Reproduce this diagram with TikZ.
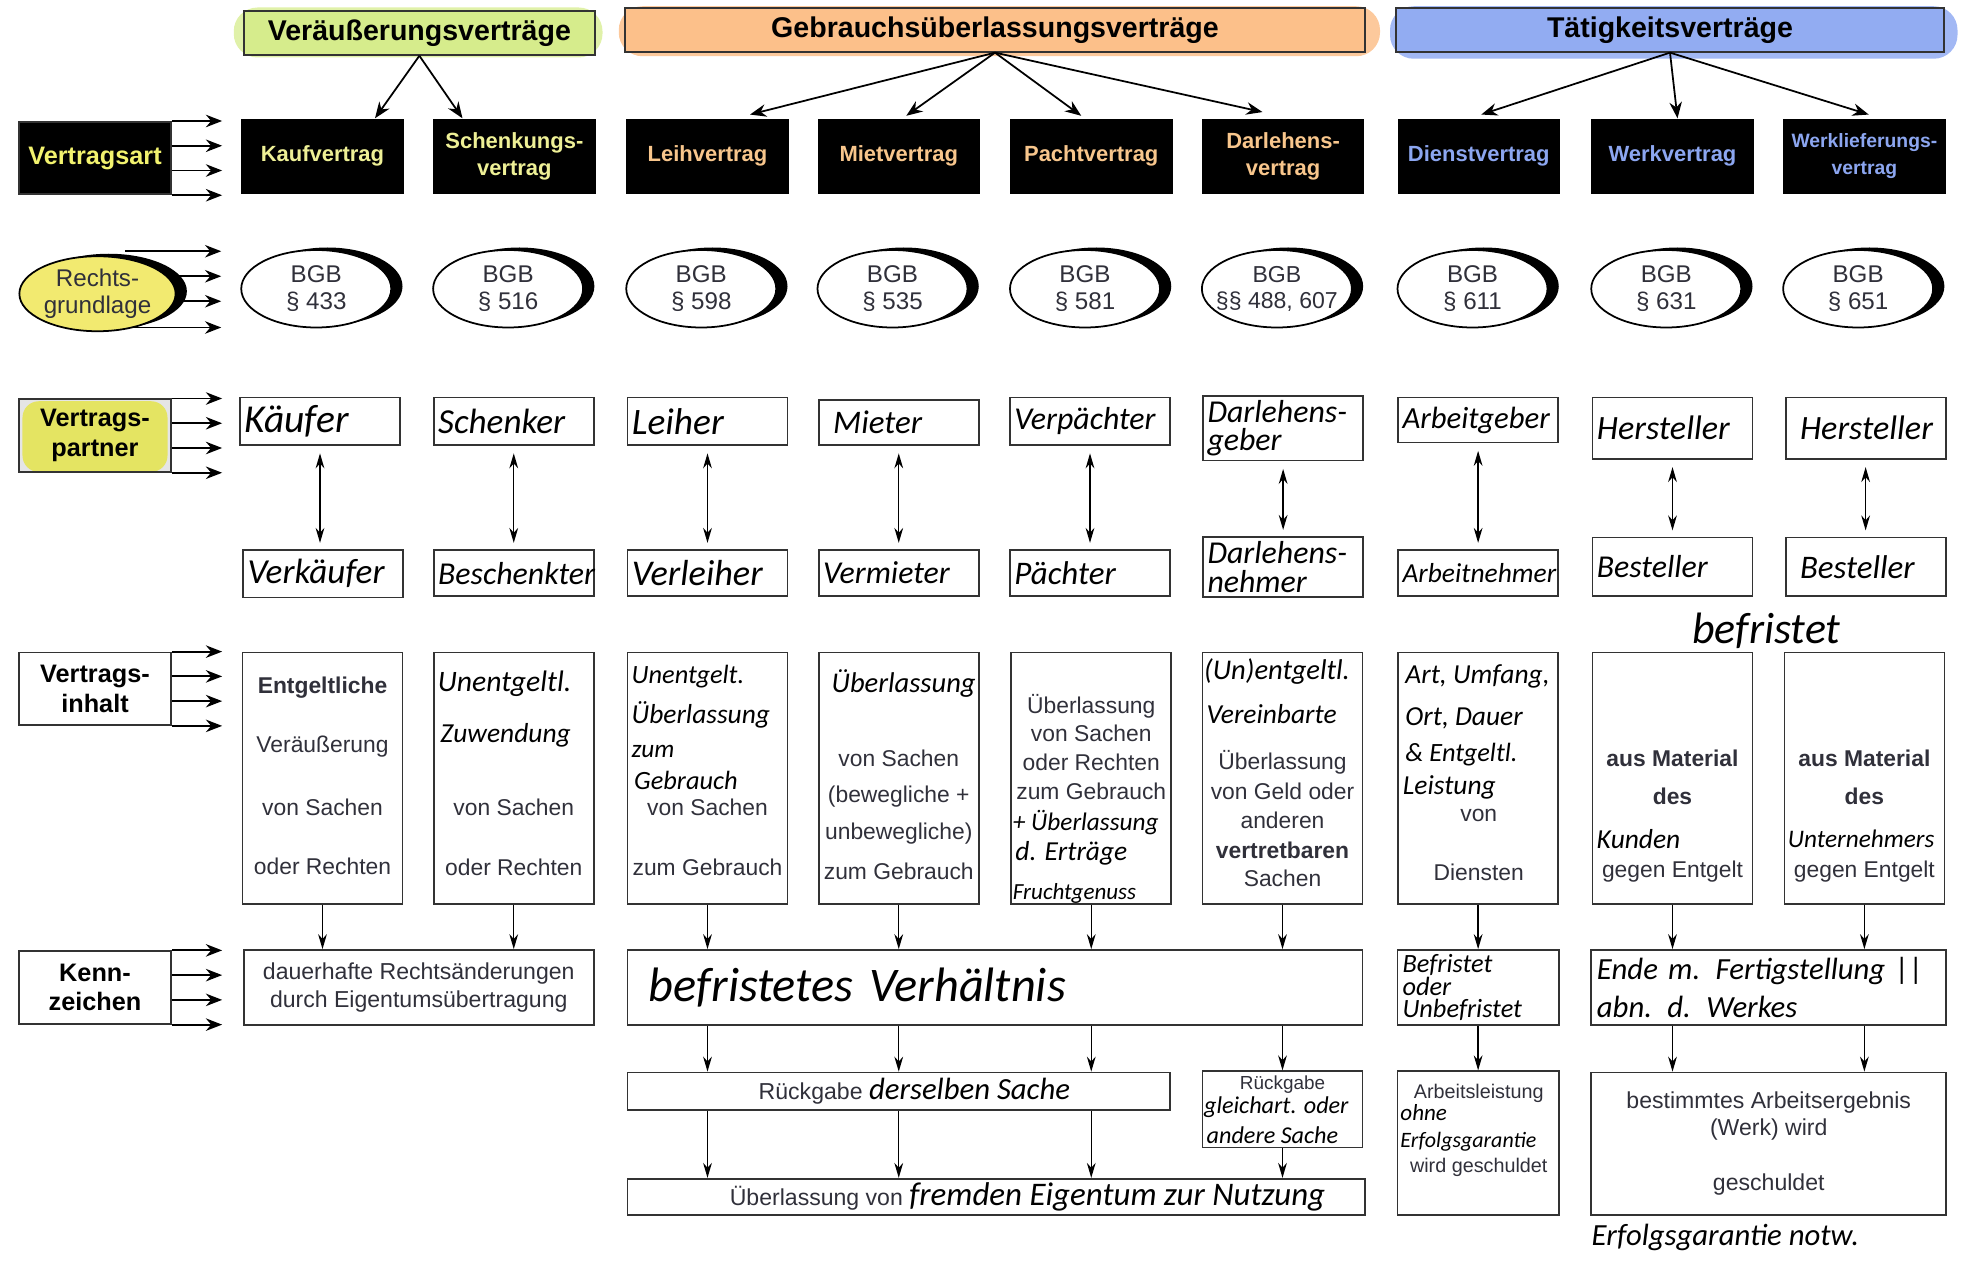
\documentclass[tikz,border=0pt]{standalone}
\usepackage{fontspec}
\setmainfont{Liberation Sans}
\newfontfamily\handfont{Carlito}
\usetikzlibrary{positioning,calc,shapes.geometric,shadows,arrows.meta}
\hyphenpenalty=10000
\exhyphenpenalty=10000

\definecolor{vgruen}{RGB}{214,236,140}
\definecolor{gorange}{RGB}{252,192,138}
\definecolor{tblau}{RGB}{146,172,242}
\definecolor{vtext}{RGB}{238,240,150}
\definecolor{gtext}{RGB}{248,198,140}
\definecolor{ttext}{RGB}{140,166,240}
\definecolor{artgelb}{RGB}{242,242,110}
\definecolor{rgelb}{RGB}{242,234,112}
\definecolor{vpgelb}{RGB}{228,228,98}
\definecolor{druck}{RGB}{48,48,58}

\newcommand\hw[1]{\handfont\itshape\fontsize{#1}{#1}\selectfont}
\newcommand\prn[1]{\fontsize{#1}{12.5}\selectfont}

\begin{document}
\begin{tikzpicture}
  [x=0.2mm,y=-0.2mm,
   kopf/.style={draw=black!80,line width=0.7pt,minimum height=7mm,
      inner sep=0pt,font=\bfseries\prn{13}},
   vart/.style={fill=black,minimum width=26mm,minimum height=12mm,
      align=center,inner sep=0pt,font=\bfseries\prn{10}},
   bgb/.style={ellipse,draw,line width=0.8pt,fill=white,
      minimum width=24mm,minimum height=12.4mm,inner sep=0pt,align=center,
      font=\fontsize{11}{12.5}\selectfont,text=druck,
      drop shadow={shadow xshift=1.8mm,shadow yshift=0.4mm,
        fill=black,opacity=1}},
   partner/.style={draw=black!80,line width=0.8pt,minimum width=25.6mm,
      text width=24.2mm,inner sep=0.7mm,align=left},
   inhalt/.style={draw=black!80,line width=0.8pt,minimum width=25.6mm,
      minimum height=40.2mm},
   kasten/.style={draw=black!80,line width=0.8pt,inner sep=0.8mm},
   seite/.style={draw=black!80,line width=0.8pt,minimum width=24.4mm,
      minimum height=11.6mm,align=center,inner sep=0pt,
      font=\bfseries\fontsize{11.5}{13.5}\selectfont},
   pf/.style={-{Stealth[length=2.6mm,width=2mm]},line width=0.8pt},
   ab/.style={-{Stealth[length=2.4mm,width=1.4mm]},line width=0.6pt},
   dpf/.style={{Stealth[length=2.4mm,width=1.4mm]}-{Stealth[length=2.4mm,width=1.4mm]},
      line width=0.6pt,shorten <=1.2mm,shorten >=1mm},
   zl/.style={inner sep=0pt,text=druck},
   hl/.style={inner sep=0pt,anchor=west}]
  \useasboundingbox (0,0) rectangle (1572,1019);

  % Gruppen
  \fill[vgruen!75,rounded corners=3.8mm] (187,6) rectangle (482,46);
  \fill[gorange!85,rounded corners=3.8mm] (495,5) rectangle (1104,45);
  \fill[tblau!85,rounded corners=3.8mm] (1112,5) rectangle (1566,47);
  \node[kopf,fill=vgruen,minimum width=56.2mm] (vk) at (335.5,26.5)
    {Veräußerungsverträge};
  \node[kopf,fill=gorange,minimum width=118.4mm] (gu) at (796,24)
    {Gebrauchsüberlassungsverträge};
  \node[kopf,fill=tblau,minimum width=87.6mm] (tv) at (1336,24)
    {Tätigkeitsverträge};

  % Vertragsart
  \node[vart,text=vtext] (kauf) at (258,125) {Kaufvertrag};
  \node[vart,text=vtext] (schenk) at (411.5,125) {Schenkungs-\\vertrag};
  \node[vart,text=gtext] (leih) at (566,125) {Leihvertrag};
  \node[vart,text=gtext] (miet) at (719,125) {Mietvertrag};
  \node[vart,text=gtext] (pacht) at (873,125) {Pachtvertrag};
  \node[vart,text=gtext] (darl) at (1026.5,125) {Darlehens-\\vertrag};
  \node[vart,text=ttext] (dienst) at (1183,125) {Dienstvertrag};
  \node[vart,text=ttext] (werk) at (1338,125) {Werkvertrag};
  \node[vart,text=ttext,font=\bfseries\prn{8.8}] (wlief) at (1491.5,125)
    {Werklieferungs-\\vertrag};

  \draw[pf] (vk.south) -- ([xshift=8.4mm]kauf.north);
  \draw[pf] (vk.south) -- ([xshift=-8.3mm]schenk.north);
  \draw[pf] (gu.south) -- ([xshift=6.8mm,yshift=0.6mm]leih.north);
  \draw[pf] (gu.south) -- ([xshift=1.2mm,yshift=0.4mm]miet.north);
  \draw[pf] (gu.south) -- ([xshift=-1.6mm,yshift=0.4mm]pacht.north);
  \draw[pf] (gu.south) -- ([xshift=-3.3mm,yshift=1mm]darl.north);
  \draw[pf] (tv.south) -- ([xshift=0.4mm,yshift=0.6mm]dienst.north);
  \draw[pf] (tv.south) -- ([xshift=0.8mm]werk.north);
  \draw[pf] (tv.south) -- ([xshift=0.7mm,yshift=0.6mm]wlief.north);

  % Seitenbeschriftung
  \node[seite,fill=black,text=artgelb] (vertragsart) at (76,126.5)
    {Vertragsart};
  \node[seite,fill=black!10,
    path picture={\fill[vpgelb,rounded corners=2.6mm]
      ([xshift=0.6mm,yshift=-0.3mm]path picture bounding box.north west)
      rectangle ([xshift=-0.6mm]path picture bounding box.south east);}]
    (vertragspartner) at (76,348.5) {Vertrags-\\partner};
  \node[seite,fill=white] (vertragsinhalt) at (76,551) {Vertrags-\\inhalt};
  \node[seite,fill=white] (kennzeichen) at (76,790) {Kenn-\\zeichen};
  \foreach \n in {vertragsart,vertragspartner,vertragsinhalt,kennzeichen}
    \foreach \f in {0,1,2,3} {
      \coordinate (\n-a\f) at ($(\n.north east)!\f/3!(\n.south east)$);
      \coordinate (\n-e\f) at ($(\n-a\f)+(40,0)$);
      \draw[pf] (\n-a\f) -- (\n-e\f);
    }
  \foreach \f/\y in {0/201,1/221,2/241,3/262} {
    \coordinate (rg-a\f) at (100,\y);
    \coordinate (rg-e\f) at (177,\y);
    \draw[pf] (rg-a\f) -- (rg-e\f);
  }
  \node[bgb,fill=rgelb,minimum width=25mm,minimum height=12mm]
    (rechtsgrundlage) at (78,235) {Rechts-\\grundlage};

  % Rechtsgrundlage
  \foreach \n/\x/\p in {1/253/§ 433,2/406.5/§ 516,3/561/§ 598,4/714/§ 535,
      5/868/§ 581,7/1178/§ 611,8/1333/§ 631,9/1486.5/§ 651}
    \node[bgb] (bgb\n) at (\x,231) {BGB\\\p};
  \node[bgb,inner xsep=-1.8mm,font=\fontsize{10.5}{12}\selectfont] (bgb6)
    at (1021.5,231) {BGB\\§§ 488, 607};

  % Vertragspartner
  \node[partner,minimum height=7.6mm,font=\hw{18}] (po1) at (256,337) {Käufer};
  \node[partner,minimum height=7.6mm,font=\hw{16}] (po2) at (411,337) {Schenker};
  \node[partner,minimum height=7.6mm,font=\hw{17}] (po3) at (566,337) {Leiher};
  \node[partner,minimum height=7.2mm,font=\hw{15}] (po4) at (719,338)
    {\hspace*{1.6mm}Mieter};
  \node[partner,minimum height=7.6mm,font=\hw{14.5}] (po5) at (872,337)
    {Verpächter};
  \node[partner,minimum height=9.8mm,
    font=\handfont\itshape\fontsize{14.5}{13}\selectfont] (po6)
    at (1026.5,342.5) {Darlehens-\\geber};
  \node[partner,minimum height=7.2mm,font=\hw{14}] (po7) at (1182.5,336)
    {Arbeitgeber};
  \node[partner,minimum height=9.8mm,font=\hw{15.5}] (po8) at (1338,342.5)
    {Hersteller};
  \node[partner,minimum height=9.8mm,font=\hw{15.5}] (po9) at (1492.5,342.5)
    {\hspace*{1.6mm}Hersteller};
  \node[partner,minimum height=7.6mm,font=\hw{16}] (pu1) at (258.5,459)
    {Verkäufer};
  \node[partner,minimum height=7.4mm,font=\hw{14.5}] (pu2) at (411,458.5)
    {Beschenkter};
  \node[partner,minimum height=7.4mm,font=\hw{16.5}] (pu3) at (566,458.5)
    {Verleiher};
  \node[partner,minimum height=7.4mm,font=\hw{14.5}] (pu4) at (719,458.5)
    {Vermieter};
  \node[partner,minimum height=7.4mm,font=\hw{15}] (pu5) at (872,458.5)
    {Pächter};
  \node[partner,minimum height=9.4mm,
    font=\handfont\itshape\fontsize{14.5}{13}\selectfont] (pu6)
    at (1026.5,453.5) {Darlehens-\\nehmer};
  \node[partner,minimum height=7.4mm,font=\hw{12.5}] (pu7) at (1182.5,458.5)
    {Arbeitnehmer};
  \node[partner,minimum height=9.4mm,font=\hw{14.5}] (pu8) at (1338,453.5)
    {Besteller};
  \node[partner,minimum height=9.4mm,font=\hw{15}] (pu9) at (1492.5,453.5)
    {\hspace*{1.6mm}Besteller};
  \foreach \n in {1,...,9}
    \draw[dpf] (po\n.south) -- (po\n.south |- pu\n.north);
  \node[hl,anchor=center] (befristet) at (1413,505) {\hw{20}befristet};

  % Vertragsinhalt
  \foreach \n/\x in {1/258,2/411,3/566,4/719,5/873,6/1026,7/1182.5,
      8/1338,9/1491.5}
    \node[inhalt] (i\n) at (\x,622.5) {};
  \foreach \x/\y/\s/\t [count=\k] in {
      258/550/10.4/{\bfseries Entgeltliche},258/597/10.4/Veräußerung,
      258/646/10.4/von Sachen,258/693/10.4/oder Rechten,
      411/646/10.4/von Sachen,411/694/10.4/oder Rechten,
      566/646/10.4/von Sachen,566/694/10.4/zum Gebrauch,
      719/607/10.4/von Sachen,719/637/10.4/(bewegliche +,
      719/667/10.4/unbewegliche),719/697/10.4/zum Gebrauch,
      873/565/10.4/Überlassung,873/587/10.4/von Sachen,
      873/610/10.4/oder Rechten,873/633/10.4/zum Gebrauch,
      1026/610/10.4/Überlassung,1026/633/10.4/von Geld oder,
      1026/656/10.4/anderen,1026/680/10.4/{\bfseries vertretbaren},
      1026/703/10.4/Sachen,
      1183/652/10.4/von,1183/698/10.4/Diensten,
      1338/607/10.4/{\bfseries aus Material},1338/637/10.4/{\bfseries des},
      1338/697/10.4/gegen Entgelt,
      1491.5/607/10.4/{\bfseries aus Material},1491.5/637/10.4/{\bfseries des},
      1491.5/697/10.4/gegen Entgelt,
      1026/868/8.6/Rückgabe,1183/875/9/Arbeitsleistung,
      1183/934/9/wird geschuldet}
    \node[zl] (z\k) at (\x,\y) {\prn{\s}\t};
  \foreach \x/\y/\s/\t [count=\k] in {
      350/547/13.5/Unentgeltl.,352/588/12.5/Zuwendung,
      505/541/12/Unentgelt.,505/572/12.5/Überlassung,505/601/11.5/zum,
      507/624/12/Gebrauch,
      665/547/13/Überlassung,
      810/658/11.5/+ Überlassung,812/683/12.5/d. Erträge,810/715/10.5/Fruchtgenuss,
      963/537/13/(Un)entgeltl.,965/571/12.5/Vereinbarte,
      1124/541/12.5/{Art, Umfang,},1124/575/12.5/{Ort, Dauer},
      1124/604/12/\& Entgeltl.,1122/630/12.5/Leistung,
      1277/671/12.5/Kunden,1430/671/11.5/Unternehmers,
      963/886/11/gleichart. oder,965/908/11/andere Sache,
      1120/890/10.5/ohne,1120/913/10/Erfolgsgarantie}
    \node[hl] (h\k) at (\x,\y) {\hw{\s}\t};

  % Kennzeichen
  \node[kasten,minimum width=56mm,minimum height=12mm,align=center,
    text=druck,font=\prn{10.5}] (kz1) at (335,790)
    {dauerhafte Rechtsänderungen\\durch Eigentumsübertragung};
  \node[kasten,minimum width=117.6mm,minimum height=12mm,text width=114mm,
    align=left,font=\hw{22}] (kz2) at (796,790)
    {\hspace*{1.6mm}befristetes Verhältnis};
  \node[kasten,minimum width=25.8mm,minimum height=12mm,text width=24.2mm,
    inner sep=0.3mm,align=left,
    font=\handfont\itshape\fontsize{12}{10.4}\selectfont] (kz3) at (1182.5,790)
    {Befristet\\oder\\Unbefristet};
  \node[kasten,minimum width=56.8mm,minimum height=12mm,text width=55mm,
    align=left,font=\handfont\itshape\fontsize{14}{17.5}\selectfont] (kz4)
    at (1415,790) {Ende m. Fertigstellung ||\\abn. d. Werkes};
  \foreach \n/\k in {1/kz1,2/kz1,3/kz2,4/kz2,5/kz2,6/kz2,7/kz3,8/kz4,9/kz4}
    \draw[ab] (i\n.south) -- (i\n.south |- \k.north);

  % Folgen
  \node[kasten,minimum width=86.8mm,minimum height=6mm,inner sep=0pt,
    text=druck,font=\prn{10.5}] (rs) at (719,873)
    {\hspace*{5mm}Rückgabe {\hw{14}\color{black} derselben Sache}};
  \node[kasten,minimum width=25.6mm,minimum height=12.2mm] (rg)
    at (1026,887.5) {};
  \node[kasten,minimum width=25.8mm,minimum height=23mm] (al)
    at (1182.5,914.5) {};
  \node[kasten,minimum width=56.8mm,minimum height=22.8mm,align=center,
    text=druck,font=\prn{10.5}] (ae) at (1415,915)
    {bestimmtes Arbeitsergebnis\\(Werk) wird\\[12.5pt]geschuldet};
  \node[kasten,minimum width=118mm,minimum height=5.8mm,inner sep=0pt,
    text=druck,font=\prn{10.5}] (ue) at (797,957.5)
    {\hspace*{10mm}Überlassung von {\hw{15}\color{black} fremden Eigentum zur Nutzung}};
  \node[hl] (erfolg) at (1273,990) {\hw{14}Erfolgsgarantie notw.};

  \foreach \n in {3,4,5} {
    \draw[ab] (i\n.south |- kz2.south) -- (i\n.south |- rs.north);
    \draw[ab] (i\n.south |- rs.south) -- (i\n.south |- ue.north);
  }
  \draw[ab] (i6.south |- kz2.south) -- (rg.north);
  \draw[ab] (rg.south) -- (i6.south |- ue.north);
  \draw[ab] (kz3.south) -- (al.north);
  \foreach \n in {8,9}
    \draw[ab] (i\n.south |- kz4.south) -- (i\n.south |- ae.north);
\end{tikzpicture}
\end{document}
